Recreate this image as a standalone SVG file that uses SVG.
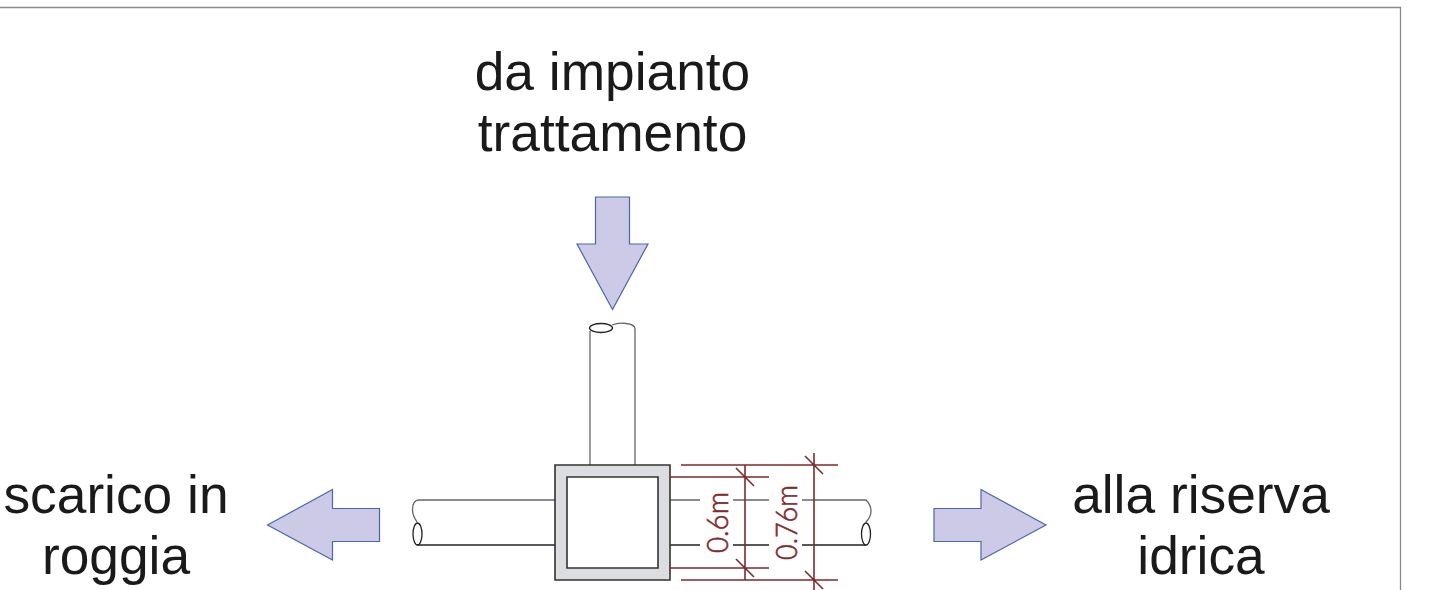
<svg xmlns="http://www.w3.org/2000/svg" width="1456" height="590" viewBox="0 0 1456 590">
<style>
.lbl{font-family:"Liberation Sans",Arial,sans-serif;font-size:53.300px;fill:#1a1a1a;text-anchor:middle}
.arrow{fill:#cccae6;stroke:#4a66ae;stroke-width:1.2}
.pipe{fill:none;stroke:#222;stroke-width:1.3}
.pipeg{fill:none;stroke:#666;stroke-width:1.3}
.dim{fill:none;stroke:#7f2a2c;stroke-width:1.6}
.dimt{font-family:"Lato","Open Sans",sans-serif;font-weight:300;font-size:29px;fill:#7f2a2c;stroke:#7f2a2c;stroke-width:.6}
</style>
<rect width="1456" height="590" fill="#fff"/>
<path id="frame" d="M0 7.500H1400.500V590" fill="none" stroke="#8c8c8c" stroke-width="1.300"/>
<g id="label-top"><text class="lbl" x="612.500" y="90">da impianto</text><text class="lbl" x="612.500" y="150.500">trattamento</text></g>
<g id="label-left"><text class="lbl" x="116" y="512.500">scarico in</text><text class="lbl" x="116" y="574">roggia</text></g>
<g id="label-right"><text class="lbl" x="1201" y="512.500">alla riserva</text><text class="lbl" x="1201" y="574">idrica</text></g>
<g id="arrow-down"><path class="arrow" d="M595.500 197H629.500V244H648L612.500 309.500L577 244H595.500Z"/></g>
<g id="arrow-left"><path class="arrow" d="M379.500 508.500V541.500H332.500V560L267.500 525L332.500 489.500V508.500Z"/></g>
<g id="arrow-right"><path class="arrow" d="M934 508.500V541.500H981V560L1046 525L981 489.500V508.500Z"/></g>
<g id="pipes">
<path class="pipeg" d="M590 465V331M612 325C617 323 622 323 626 323.500C631 324 635 326 635 329V465"/>
<ellipse class="pipe" cx="601" cy="328" rx="11.500" ry="4.500"/>
<path class="pipeg" d="M555 500H419C414 500 412.500 505 412.500 510C412.500 515 415 519 417 522"/>
<ellipse class="pipe" cx="417.500" cy="534" rx="4.500" ry="11"/>
<path class="pipe" d="M417 545H555"/>
<path class="pipeg" d="M670 500H700M733 500H769M802 500H866C869 503 871 507 871 511C871 516 869 519 866 522"/>
<path class="pipe" d="M670 545H700M733 545H769M802 545H866"/>
<ellipse class="pipe" cx="866" cy="534" rx="4.500" ry="11"/>
</g>
<g id="chamber"><path d="M555 465H670V580H555ZM567 477V568H658V477Z" fill="#dcdde1" fill-rule="evenodd" stroke="#333" stroke-width="1.600"/></g>
<g id="dimensions">
<path class="dim" d="M681 465H838M670 477H769M670 568H769M681 580H838M745 465V580M814 453V590M736 468L754 486M736 559L754 577M805 456L823 474M805 571L823 589"/>
<text class="dimt" transform="translate(728 553) rotate(-90)" textLength="61" lengthAdjust="spacingAndGlyphs">0.6m</text>
<text class="dimt" transform="translate(797 560) rotate(-90)" textLength="75" lengthAdjust="spacingAndGlyphs">0.76m</text>
</g>
</svg>
